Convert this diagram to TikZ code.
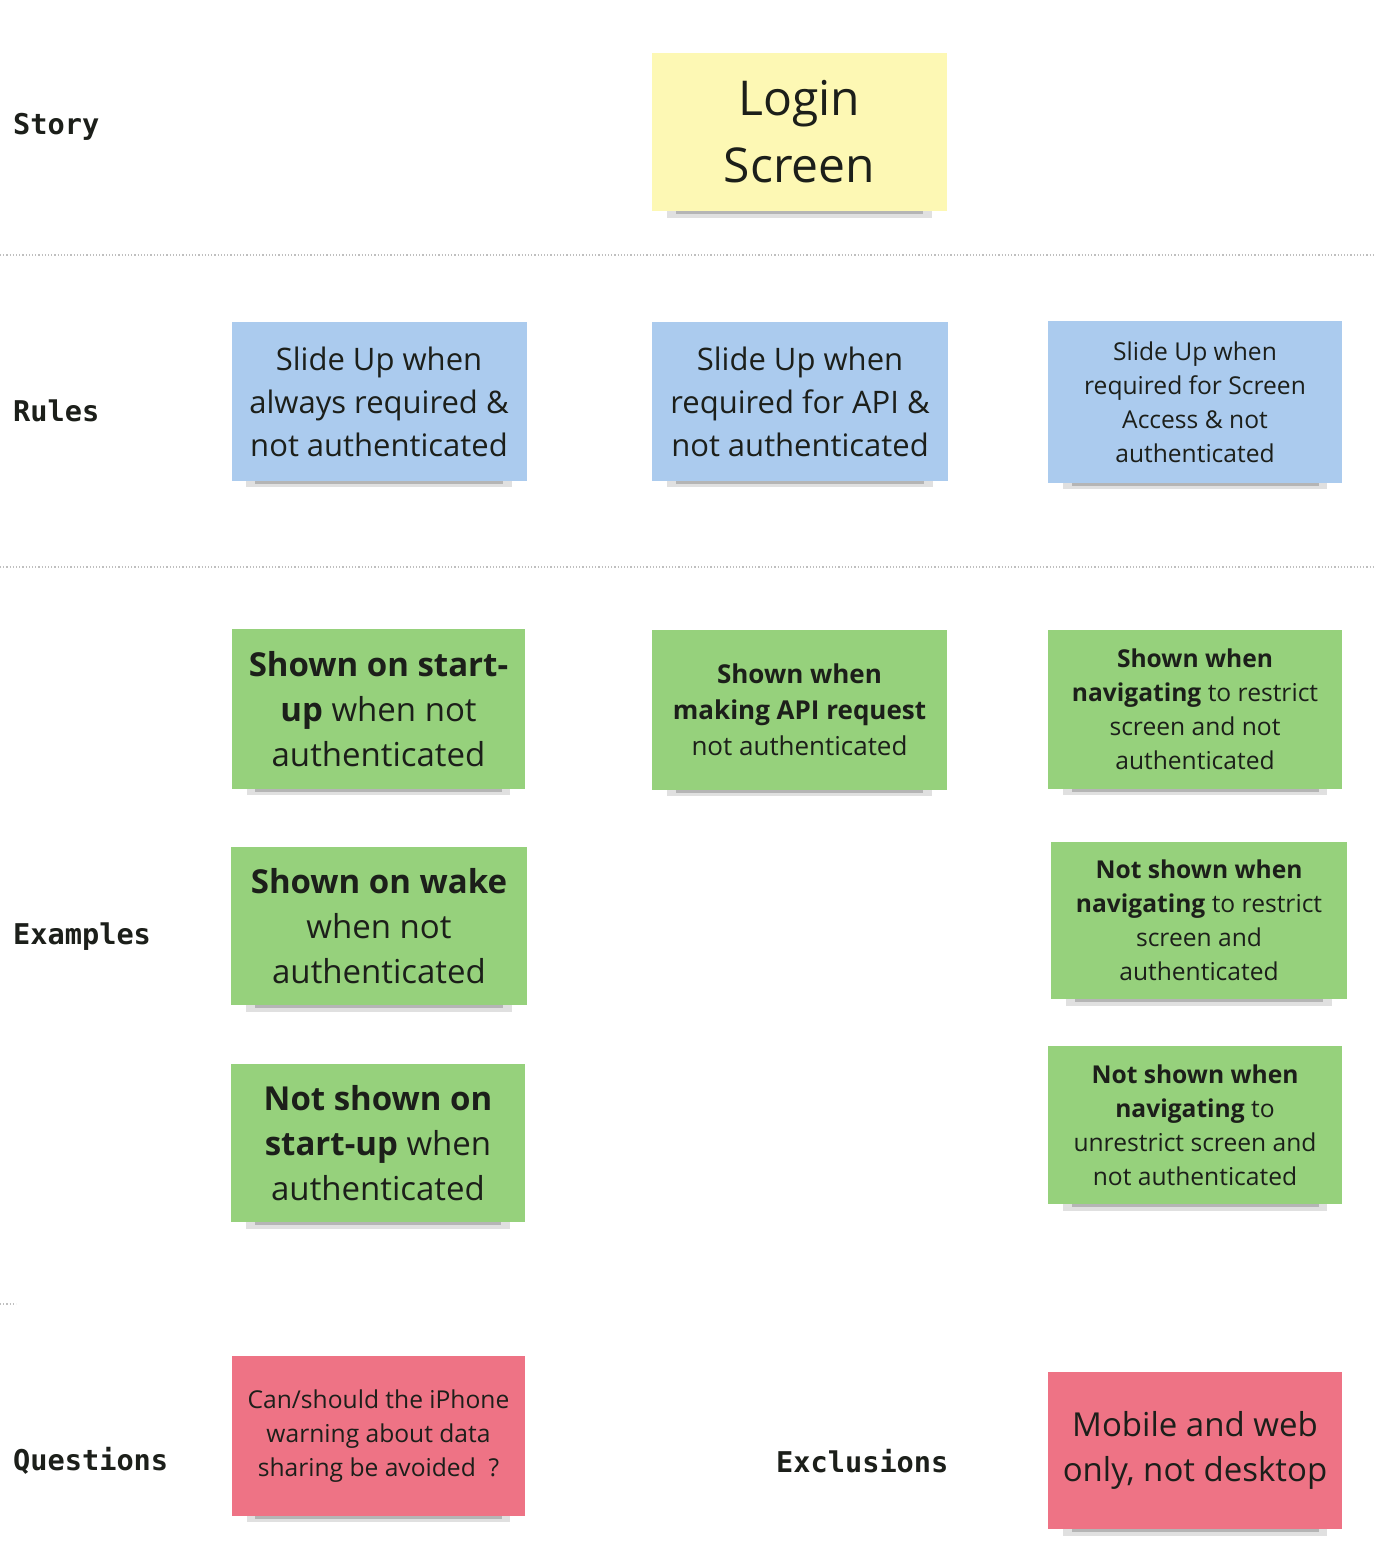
\documentclass[tikz,border=0pt]{standalone}
\usepackage{fontspec}
\setmainfont{Open Sans}
\newfontfamily\labelfont{DejaVu Sans Mono}
\usetikzlibrary{shadows}
\definecolor{note_yellow}{HTML}{FDF8B4}
\definecolor{note_blue}{HTML}{ABCBEE}
\definecolor{note_green}{HTML}{96D17C}
\definecolor{note_red}{HTML}{EE7385}
\definecolor{note_text}{HTML}{1C1F1A}
\tikzset{sticky_note/.style={minimum width=295pt, minimum height=158pt, inner sep=0pt, align=center, text=note_text,
    drop shadow={shadow xshift=0pt, shadow yshift=-16pt, shadow scale=0.9, opacity=0.12, fill=black},
    drop shadow={shadow xshift=0pt, shadow yshift=-19pt, shadow scale=0.84, opacity=0.25, fill=black!80}}}
\tikzset{row_label/.style={anchor=west, inner sep=0pt, text=note_text, font=\labelfont\bfseries\fontsize{28.6}{30}\selectfont}}
\tikzset{row_divider/.style={dotted, line width=1.2pt, color=black!25}}
\tikzset{font_big/.style={font=\fontsize{31}{43}\selectfont}}
\tikzset{font_mid/.style={font=\fontsize{33}{45}\selectfont}}
\tikzset{font_small/.style={font=\fontsize{24.6}{34}\selectfont}}

\begin{document}
\begin{tikzpicture}[x=1pt, y=-1pt]
    \useasboundingbox (0,0) rectangle (1374,1554);
    \draw[row_divider] (0,255) -- (1374,255);
    \draw[row_divider] (0,567) -- (1374,567);
    \draw[row_divider] (0,1304) -- (16,1304);
    % row labels
    \node[row_label] (story) at (13,127) {Story};
    \node[row_label] (rules) at (13,411) {Rules};
    \node[row_label] (examples) at (13,937) {Examples};
    \node[row_label] (questions) at (13,1461) {Questions};
    \node[row_label] (exclusions) at (776,1461) {Exclusions};
    % story
    \node[sticky_note, fill=note_yellow, font=\fontsize{48}{67}\selectfont] (login) at (799.5,132) {Login\\Screen};
    % rules
    \node[sticky_note, fill=note_blue, font_big, minimum height=159pt] (rule1) at (379,401.5) {Slide Up when\\always required \&\\not authenticated};
    \node[sticky_note, fill=note_blue, font_big, minimum height=159pt, minimum width=296pt] (rule2) at (800,401.5) {Slide Up when\\required for API \&\\not authenticated};
    \node[sticky_note, fill=note_blue, font_small, minimum height=162pt, minimum width=294pt] (rule3) at (1195,402) {Slide Up when\\required for Screen\\Access \& not\\authenticated};
    % examples
    \node[sticky_note, fill=note_green, font_mid, minimum height=160pt, minimum width=293pt] (ex_startup) at (378.5,709) {\textbf{Shown on start-}\\\textbf{up} when not\\authenticated};
    \node[sticky_note, fill=note_green, font=\fontsize{26}{36}\selectfont, minimum height=160pt] (ex_api) at (799.5,710) {\textbf{Shown when}\\\textbf{making API request}\\not authenticated};
    \node[sticky_note, fill=note_green, font_small, minimum height=159pt, minimum width=294pt] (ex_restrict) at (1195,709.5) {\textbf{Shown when}\\\textbf{navigating} to restrict\\screen and not\\authenticated};
    \node[sticky_note, fill=note_green, font_mid, minimum width=296pt] (ex_wake) at (379,926) {\textbf{Shown on wake}\\when not\\authenticated};
    \node[sticky_note, fill=note_green, font_small, minimum height=157pt, minimum width=296pt] (ex_restrict_auth) at (1199,920.5) {\textbf{Not shown when}\\\textbf{navigating} to restrict\\screen and\\authenticated};
    \node[sticky_note, fill=note_green, font_mid, minimum width=294pt] (ex_startup_auth) at (378,1143) {\textbf{Not shown on}\\\textbf{start-up} when\\authenticated};
    \node[sticky_note, fill=note_green, font_small, minimum width=294pt] (ex_unrestrict) at (1195,1125) {\textbf{Not shown when}\\\textbf{navigating} to\\unrestrict screen and\\not authenticated};
    % questions and exclusions
    \node[sticky_note, fill=note_red, font_small, minimum height=160pt, minimum width=293pt] (question1) at (378.5,1436) {Can/should the iPhone\\warning about data\\sharing be avoided\ \ ?};
    \node[sticky_note, fill=note_red, font_mid, minimum height=157pt, minimum width=294pt] (exclusion1) at (1195,1450.5) {Mobile and web\\only, not desktop};
\end{tikzpicture}
\end{document}
